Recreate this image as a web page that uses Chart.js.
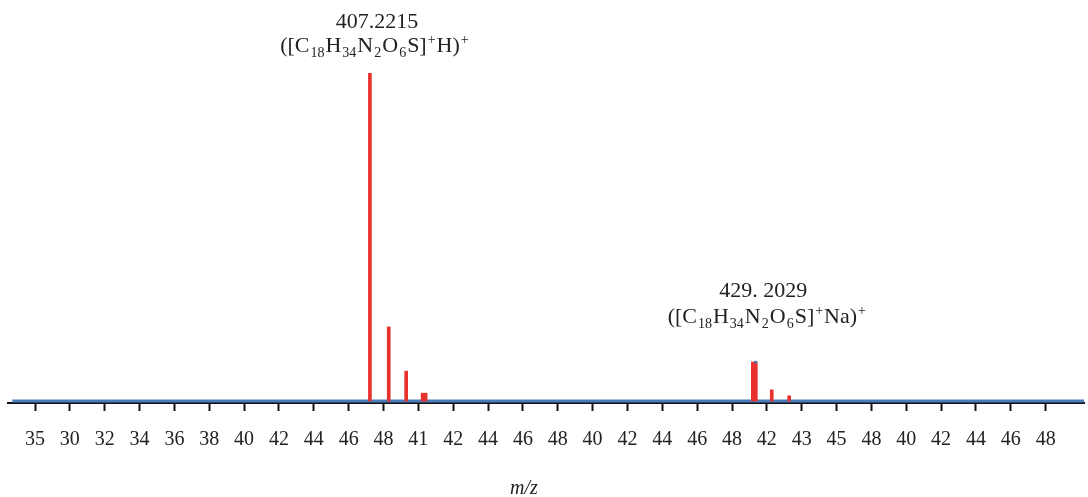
<!DOCTYPE html>
<html>
<head>
<meta charset="utf-8">
<script src="https://cdn.jsdelivr.net/npm/chart.js@4.4.0/dist/chart.umd.min.js"></script>
<style>
  html, body { margin: 0; padding: 0; background: #fff; }
  #wrap { width: 1088px; height: 497px; }
</style>
</head>
<body>
<div id="wrap"><canvas id="myChart" width="1088" height="497"></canvas></div>
<script>
// peak data (m/z, relative intensity %)
var thinMz = [407.22, 408.3, 409.3, 430.28, 431.28];
var thinInt = [100, 22.6, 9.1, 3.4, 1.6];
var broadMz = [410.33, 429.28];
var broadInt = [2.4, 11.9];
var blueMz = [429.36];
var blueInt = [11.9];

// axis ticks as printed in the figure
var tickValues = [388, 390, 392, 394, 396, 398, 400, 402, 404, 406, 408, 410, 412, 414, 416,
                  418, 420, 422, 424, 426, 428, 430, 432, 434, 436, 438, 440, 442, 444, 446];
var tickLabels = ['35', '30', '32', '34', '36', '38', '40', '42', '44', '46', '48', '41', '42', '44', '46',
                  '48', '40', '42', '44', '46', '48', '42', '43', '45', '48', '40', '42', '44', '46', '48'];

// peak annotations
var peakLabels = [
    { mz: 407.22, y: 100, value: '407.2215', ion: 'H' },
    { mz: 429.28, y: 11.9, value: '429. 2029', ion: 'Na' }
];

var serif = '"Liberation Serif", "Times New Roman", serif';

function pts(xs, ys) {
    return xs.map(function (x, i) { return { x: x, y: ys[i] }; });
}

function formulaParts(ion) {
    return [
        ['([C', 0], ['18', -1], ['H', 0], ['34', -1], ['N', 0], ['2', -1],
        ['O', 0], ['6', -1], ['S]', 0], ['+', 1], [ion + ')', 0], ['+', 1]
    ];
}

function drawFormula(ctx, parts, cx, baseY) {
    var big = '22px ' + serif, small = '14px ' + serif;
    var w = 0;
    parts.forEach(function (p) {
        ctx.font = p[1] === 0 ? big : small;
        w += ctx.measureText(p[0]).width + 1;
    });
    var x = cx - w / 2;
    ctx.textAlign = 'left';
    parts.forEach(function (p) {
        ctx.font = p[1] === 0 ? big : small;
        var dy = p[1] === -1 ? 5 : (p[1] === 1 ? -8 : 0);
        ctx.fillText(p[0], x, baseY + dy);
        x += ctx.measureText(p[0]).width + 1;
    });
}

var labelPlugin = {
    id: 'peakLabels',
    afterDraw: function (chart) {
        var ctx = chart.ctx;
        var xs = chart.scales.x, ys = chart.scales.y;
        var offsets = [
            { nx: 7, ny: -45, fx: 5, fy: -21 },
            { nx: 9, ny: -65, fx: 13, fy: -39 }
        ];
        ctx.save();
        ctx.fillStyle = '#222';
        ctx.textBaseline = 'alphabetic';
        peakLabels.forEach(function (p, i) {
            var px = xs.getPixelForValue(p.mz);
            var py = ys.getPixelForValue(p.y);
            var o = offsets[i];
            ctx.font = '22px ' + serif;
            ctx.textAlign = 'center';
            ctx.fillText(p.value, px + o.nx, py + o.ny);
            drawFormula(ctx, formulaParts(p.ion), px + o.fx, py + o.fy);
        });
        ctx.font = 'italic 20px ' + serif;
        ctx.textAlign = 'center';
        ctx.fillText('m/z', 524, 494);
        ctx.restore();
    }
};

var ctx = document.getElementById('myChart').getContext('2d');
var myChart = new Chart(ctx, {
    type: 'bar',
    data: {
        datasets: [{
            type: 'bar',
            data: pts(thinMz, thinInt),
            backgroundColor: '#e8312c',
            barThickness: 3,
            grouped: false,
            order: 1
        },
        {
            type: 'bar',
            data: pts(broadMz, broadInt),
            backgroundColor: '#e8312c',
            barThickness: 6,
            grouped: false,
            order: 1
        },
        {
            type: 'scatter',
            data: pts(blueMz, blueInt),
            backgroundColor: '#3d7cc9',
            borderWidth: 0,
            pointRadius: 1.5,
            order: 0
        },
        {
            type: 'line',
            data: [{ x: 386.7, y: 0 }, { x: 448.2, y: 0 }],
            borderColor: '#4a7bbd',
            borderWidth: 3,
            pointRadius: 0,
            order: 2
        }]
    },
    options: {
        responsive: false,
        animation: false,
        events: [],
        layout: { padding: { left: 8, right: 3, top: 73, bottom: 0 } },
        plugins: {
            legend: { display: false },
            tooltip: { enabled: false }
        },
        scales: {
            x: {
                type: 'linear',
                min: 386.45,
                max: 448.2,
                offset: false,
                afterBuildTicks: function (scale) {
                    scale.ticks = tickValues.map(function (v) { return { value: v }; });
                },
                afterFit: function (scale) { scale.height = 94; },
                grid: {
                    offset: false,
                    drawOnChartArea: false,
                    drawTicks: true,
                    tickLength: 8,
                    tickWidth: 2,
                    tickColor: '#111'
                },
                border: { display: true, color: '#111', width: 2 },
                ticks: {
                    autoSkip: false,
                    maxRotation: 0,
                    padding: 17,
                    color: '#222',
                    font: { family: serif, size: 20 },
                    callback: function (value) {
                        var i = tickValues.indexOf(value);
                        return i >= 0 ? tickLabels[i] : '';
                    }
                }
            },
            y: {
                display: false,
                min: -0.6,
                max: 100
            }
        }
    },
    plugins: [labelPlugin]
});
</script>
</body>
</html>
